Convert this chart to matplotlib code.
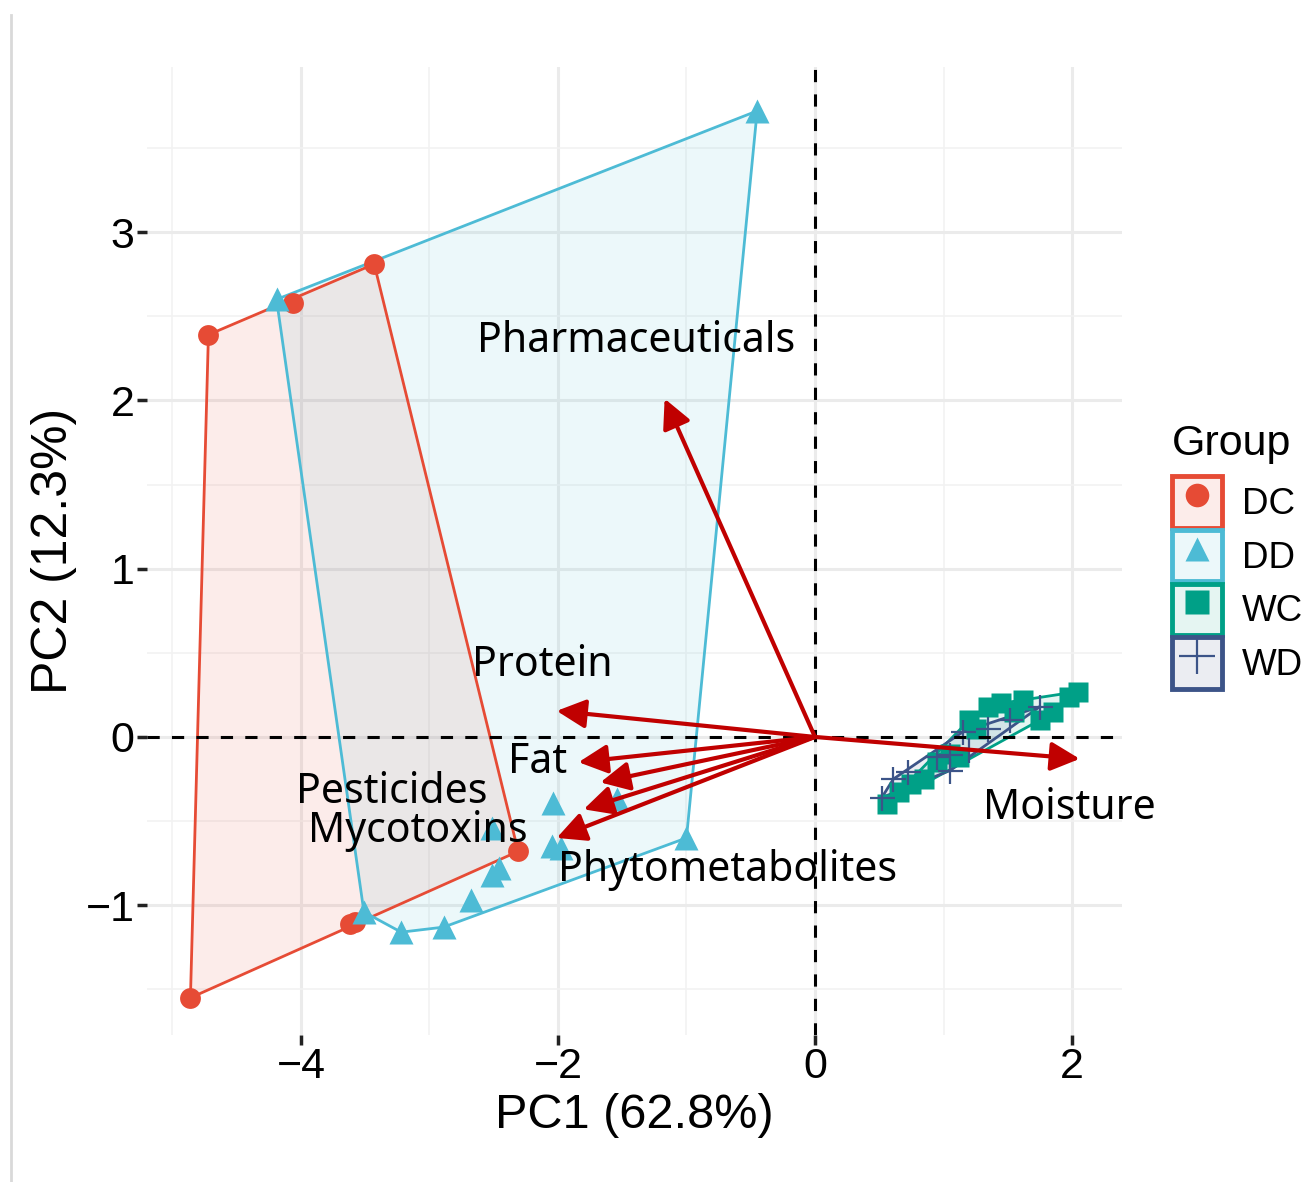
import numpy as np
import matplotlib
matplotlib.use('Agg')
import matplotlib.pyplot as plt
from matplotlib.patches import Polygon, Patch
from matplotlib.lines import Line2D
from matplotlib.legend_handler import HandlerTuple

# scores
dc_x = [-4.72, -3.43, -4.06, -2.31, -3.58, -3.62, -4.86]
dc_y = [2.39, 2.81, 2.58, -0.68, -1.10, -1.11, -1.55]

dd_x = [-0.45, -4.19, -3.51, -3.22, -2.89, -2.68, -2.51, -2.46, -2.51, -2.04, -2.05, -1.98, -1.54, -1.00]
dd_y = [3.72, 2.60, -1.04, -1.16, -1.13, -0.97, -0.82, -0.78, -0.54, -0.39, -0.65, -0.66, -0.37, -0.60]

wc_x = [0.56, 0.65, 0.75, 0.85, 0.95, 1.05, 1.12, 1.20, 1.25, 1.35, 1.45, 1.55, 1.62, 1.75, 1.85, 1.98, 2.05]
wc_y = [-0.40, -0.33, -0.28, -0.25, -0.15, -0.10, -0.12, 0.10, 0.05, 0.18, 0.20, 0.15, 0.22, 0.10, 0.15, 0.24, 0.27]

wd_x = [0.52, 0.61, 0.72, 0.95, 1.05, 1.05, 1.15, 1.20, 1.35, 1.52, 1.75]
wd_y = [-0.36, -0.25, -0.21, -0.12, -0.20, -0.11, 0.03, -0.08, 0.05, 0.10, 0.18]

# loadings
var_names = ['Pharmaceuticals', 'Protein', 'Fat', 'Pesticides', 'Mycotoxins', 'Phytometabolites', 'Moisture']
load_x = [-1.17, -2.01, -1.84, -1.67, -1.80, -2.01, 2.06]
load_y = [2.01, 0.155, -0.15, -0.27, -0.43, -0.60, -0.13]
label_x = [-1.39, -2.12, -2.16, -3.29, -3.09, -0.68, 1.98]
label_y = [2.35, 0.43, -0.15, -0.33, -0.56, -0.79, -0.42]

groups = ['DC', 'DD', 'WC', 'WD']
colors = ['#E64B35', '#4DBBD5', '#00A087', '#3C5488']
markers = ['o', '^', 's', '+']
msizes = [15, 17, 14, 18]


def hull(px, py):
    pts = sorted(set(zip(px, py)))
    def cross(o, a, b):
        return (a[0] - o[0]) * (b[1] - o[1]) - (a[1] - o[1]) * (b[0] - o[0])
    lower, upper = [], []
    for p in pts:
        while len(lower) >= 2 and cross(lower[-2], lower[-1], p) <= 0:
            lower.pop()
        lower.append(p)
    for p in reversed(pts):
        while len(upper) >= 2 and cross(upper[-2], upper[-1], p) <= 0:
            upper.pop()
        upper.append(p)
    return np.array(lower[:-1] + upper[:-1])


plt.rcParams['font.family'] = ['Liberation Sans', 'DejaVu Sans']

fig = plt.figure(figsize=(13.06, 11.82), dpi=100)
ax = fig.add_axes([147 / 1306, 1 - 1035 / 1182, 975 / 1306, 968 / 1182])

ax.set_xlim(-5.198, 2.389)
ax.set_ylim(-1.771, 3.981)

# grid
ax.set_xticks([-4, -2, 0, 2])
ax.set_yticks([-1, 0, 1, 2, 3])
ax.set_xticks([-5, -3, -1, 1], minor=True)
ax.set_yticks([-1.5, -0.5, 0.5, 1.5, 2.5, 3.5], minor=True)
ax.grid(True, which='major', color='#EBEBEB', lw=2.2, zorder=0)
ax.grid(True, which='minor', color='#F2F2F2', lw=1.2, zorder=0)
ax.set_axisbelow(True)
for s in ax.spines.values():
    s.set_visible(False)
ax.tick_params(which='major', length=7, width=2.5, color='#222222', labelsize=31, pad=2)
ax.tick_params(which='minor', length=0)
ax.set_xticklabels(['\u22124', '\u22122', '0', '2'])
ax.set_yticklabels(['\u22121', '0', '1', '2', '3'])

all_x = [dc_x, dd_x, wc_x, wd_x]
all_y = [dc_y, dd_y, wc_y, wd_y]

for gx, gy, c, m, ms in zip(all_x, all_y, colors, markers, msizes):
    h = hull(gx, gy)
    ax.add_patch(Polygon(h, closed=True, facecolor=c, alpha=0.1, edgecolor='none', zorder=1))
    ax.add_patch(Polygon(h, closed=True, facecolor='none', edgecolor=c, lw=2, zorder=2))
    if m == '+':
        ax.plot(gx, gy, ls='none', marker=m, ms=ms, mew=1.6, color=c, zorder=3)
    else:
        ax.plot(gx, gy, ls='none', marker=m, ms=ms, color=c, mec='none', zorder=3)

ax.axhline(0, color='black', lw=2.2, ls=(0, (4, 4)), zorder=4)
ax.axvline(0, color='black', lw=2.2, ls=(0, (4, 4)), zorder=4)

for name, lx, ly, tx, ty in zip(var_names, load_x, load_y, label_x, label_y):
    ax.annotate('', xy=(lx, ly), xytext=(0, 0),
                arrowprops=dict(arrowstyle='-|>,head_length=0.8,head_width=0.4', color='#C00000',
                                lw=3, shrinkA=0, shrinkB=0, mutation_scale=22),
                zorder=5)
    ax.text(tx, ty, name, ha='center', va='center', fontsize=29.5,
            family=['Noto Sans', 'DejaVu Sans'], zorder=6)

ax.set_xlabel('PC1 (62.8%)', fontsize=35, labelpad=4)
ax.set_ylabel('PC2 (12.3%)', fontsize=36, labelpad=6)

# legend
handles = []
for c, m, ms in zip(colors, markers, msizes):
    box = Patch(facecolor=matplotlib.colors.to_rgba(c, 0.1), edgecolor=c, lw=3.5)
    if m == '+':
        mk = Line2D([], [], ls='none', marker=m, ms=26, mew=1.6, color=c)
    else:
        mk = Line2D([], [], ls='none', marker=m, ms=17, color=c, mec='none')
    handles.append((box, mk))
leg = fig.legend(handles, groups, handler_map={tuple: HandlerTuple(ndivide=1, pad=0)},
                 loc='upper left', bbox_to_anchor=(1172 / 1306, 1 - 424 / 1182),
                 frameon=False, fontsize=26.5, title='Group', title_fontsize=31,
                 handlelength=1.35, handleheight=1.77, labelspacing=0.06,
                 handletextpad=0.55, borderpad=0, borderaxespad=0)
leg._legend_box.align = 'left'
leg._legend_box.sep = 9

# border line at left of the screenshot
fig.add_artist(Line2D([11 / 1306, 11 / 1306], [0, 1 - 15 / 1182], color='#D9D9D9', lw=2))

fig.savefig('out.png', dpi=100)
